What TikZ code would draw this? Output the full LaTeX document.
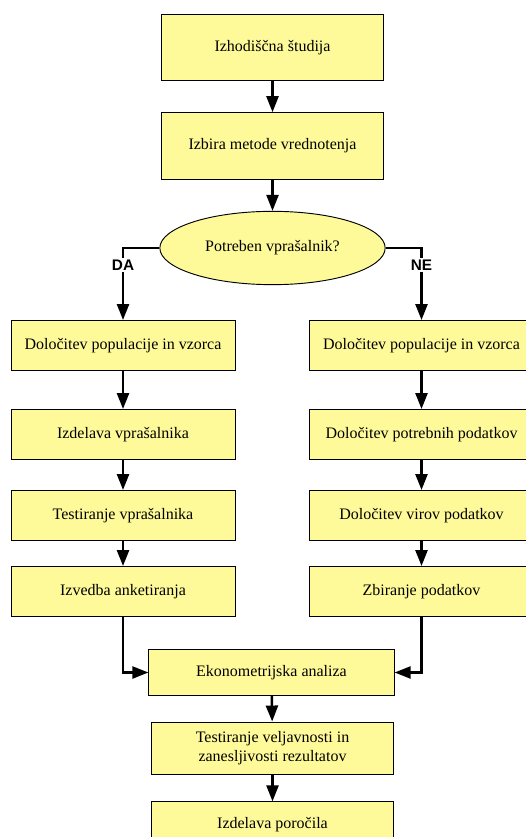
\documentclass[tikz,border=0pt]{standalone}
\usepackage{fontspec}
\setmainfont{Liberation Serif}
\newfontfamily\answerfont{Liberation Sans}
\usetikzlibrary{shapes.geometric,arrows.meta}
\colorlet{boxcol}{yellow!40}
\tikzset{>={Triangle[length=12pt,width=9pt]}}
\tikzstyle{stepbox}=[draw,line width=0.7pt,fill=boxcol,inner sep=2pt,align=center,
  font=\fontsize{12}{14}\selectfont]
\tikzstyle{topbox}=[stepbox,minimum width=167pt,minimum height=50pt]
\tikzstyle{sidebox}=[stepbox,minimum width=168pt,minimum height=37.5pt]
\tikzstyle{question}=[stepbox,ellipse,minimum width=169pt,minimum height=55pt]
\tikzstyle{flow}=[->,line width=1.8pt]
\tikzstyle{answer}=[fill=white,inner sep=1pt,font=\answerfont\bfseries\fontsize{11.5}{13}\selectfont]

\begin{document}
\begin{tikzpicture}[x=0.75pt,y=-0.75pt]
  \useasboundingbox (0,0) rectangle (525,837);
  \def\xL{123}
  \def\xR{421.5}
  \def\xC{272.5}

  % MAIN BRANCH
  \node[topbox] (start) at (\xC,47.5) {Izhodiščna študija};
  \node[topbox] (method) at (\xC,146) {Izbira metode vrednotenja};
  \node[question] (need) at (\xC,248) {Potreben vprašalnik?};

  % LEFT BRANCH
  \node[sidebox] (popL) at (\xL,345.5) {Določitev populacije in vzorca};
  \node[sidebox] (make) at (\xL,434.5) {Izdelava vprašalnika};
  \node[sidebox] (test) at (\xL,515.5) {Testiranje vprašalnika};
  \node[sidebox] (survey) at (\xL,591.5) {Izvedba anketiranja};

  % RIGHT BRANCH
  \node[sidebox] (popR) at (\xR,345.5) {Določitev populacije in vzorca};
  \node[sidebox] (needed) at (\xR,434.5) {Določitev potrebnih podatkov};
  \node[sidebox] (sources) at (\xR,515.5) {Določitev virov podatkov};
  \node[sidebox] (collect) at (\xR,591.5) {Zbiranje podatkov};

  % FINAL STEPS
  \node[stepbox,minimum width=184pt,minimum height=34pt] (econ) at (271.5,672.5) {Ekonometrijska analiza};
  \node[stepbox,minimum width=181pt,minimum height=39pt] (valid) at (\xC,748)
    {Testiranje veljavnosti in\\zanesljivosti rezultatov};
  \node[stepbox,minimum width=181pt,minimum height=34pt] (report) at (\xC,824.5) {Izdelava poročila};

  % CONNECTORS
  \draw[flow] (start) -- (method);
  \draw[flow] (method) -- (need);
  \draw[flow] (need.west) -| (popL.north);
  \draw[flow] (need.east) -| (popR.north);
  \node[answer] (yes) at (\xL,265) {DA};
  \node[answer] (no) at (\xR,265) {NE};
  \draw[flow] (popL) -- (make);
  \draw[flow] (make) -- (test);
  \draw[flow] (test) -- (survey);
  \draw[flow] (popR) -- (needed);
  \draw[flow] (needed) -- (sources);
  \draw[flow] (sources) -- (collect);
  \draw[flow] (survey.south) |- (econ.west);
  \draw[flow] (collect.south) |- (econ.east);
  \draw[flow] (econ) -- (valid);
  \draw[flow] (valid) -- (report);

\end{tikzpicture}
\end{document}
